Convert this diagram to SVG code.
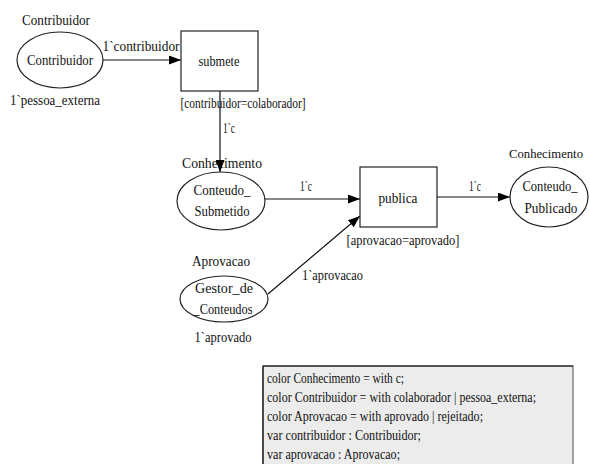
<svg xmlns="http://www.w3.org/2000/svg" width="590" height="464" viewBox="0 0 590 464" font-family="'Liberation Serif', 'DejaVu Serif', serif">
<style>
text{font-family:'Liberation Serif','DejaVu Serif',serif;font-size:15px;fill:#111}
.c{text-anchor:middle}
.decl{font-size:14px}
.shape{fill:#fff;stroke:#222;stroke-width:1.2}
.edge{stroke:#111;stroke-width:1.2;fill:none}
</style>
<defs>
<marker id="arr" markerWidth="12" markerHeight="9" refX="12" refY="4.5" orient="auto" markerUnits="userSpaceOnUse">
<path d="M0,0 L12,4.5 L0,9 Z" fill="#000"/>
</marker>
</defs>
<rect width="590" height="464" fill="#fff"/>
<g id="connectors">
<line class="edge" x1="103" y1="60" x2="181" y2="60" marker-end="url(#arr)"/>
<line class="edge" x1="220" y1="91" x2="220" y2="172" marker-end="url(#arr)"/>
<line class="edge" x1="265" y1="199" x2="360" y2="199" marker-end="url(#arr)"/>
<line class="edge" x1="268" y1="294" x2="360" y2="216" marker-end="url(#arr)"/>
<line class="edge" x1="437" y1="197" x2="510" y2="197" marker-end="url(#arr)"/>
<text x="141" y="51" class="c" textLength="77" lengthAdjust="spacingAndGlyphs">1`contribuidor</text>
<text x="223" y="133" textLength="12" lengthAdjust="spacingAndGlyphs">1`c</text>
<text x="306" y="191" class="c" textLength="12" lengthAdjust="spacingAndGlyphs">1`c</text>
<text x="475" y="191" class="c" textLength="12" lengthAdjust="spacingAndGlyphs">1`c</text>
<text x="302" y="280" textLength="61" lengthAdjust="spacingAndGlyphs">1`aprovacao</text>
</g>
<g id="contribuidor">
<text x="56" y="25" class="c" textLength="68" lengthAdjust="spacingAndGlyphs">Contribuidor</text>
<ellipse class="shape" cx="60" cy="60" rx="43" ry="28"/>
<text x="60" y="65" class="c" textLength="66" lengthAdjust="spacingAndGlyphs">Contribuidor</text>
<text x="55" y="105" class="c" textLength="90" lengthAdjust="spacingAndGlyphs">1`pessoa_externa</text>
</g>
<g id="submete">
<rect class="shape" x="181" y="31" width="77" height="60"/>
<text x="219" y="66" class="c" textLength="41" lengthAdjust="spacingAndGlyphs">submete</text>
<text x="243" y="108" class="c" textLength="125" lengthAdjust="spacingAndGlyphs">[contribuidor=colaborador]</text>
</g>
<g id="conteudo_submetido">
<text x="222" y="168" class="c" textLength="80" lengthAdjust="spacingAndGlyphs">Conhecimento</text>
<ellipse class="shape" cx="221" cy="201" rx="44" ry="29"/>
<text x="222" y="195" class="c" textLength="57" lengthAdjust="spacingAndGlyphs">Conteudo_</text>
<text x="222" y="216" class="c" textLength="55" lengthAdjust="spacingAndGlyphs">Submetido</text>
</g>
<g id="publica">
<rect class="shape" x="360" y="167" width="77" height="60"/>
<text x="398" y="203" class="c" textLength="39" lengthAdjust="spacingAndGlyphs">publica</text>
<text x="403" y="245" class="c" textLength="113" lengthAdjust="spacingAndGlyphs">[aprovacao=aprovado]</text>
</g>
<g id="conteudo_publicado">
<text x="546" y="158" class="c" style="font-size:13px" textLength="74" lengthAdjust="spacingAndGlyphs">Conhecimento</text>
<ellipse class="shape" cx="549" cy="197" rx="39" ry="30"/>
<text x="550" y="191" class="c" textLength="55" lengthAdjust="spacingAndGlyphs">Conteudo_</text>
<text x="551" y="213" class="c" textLength="53" lengthAdjust="spacingAndGlyphs">Publicado</text>
</g>
<g id="gestor_de_conteudos">
<text x="221" y="266" class="c" textLength="58" lengthAdjust="spacingAndGlyphs">Aprovacao</text>
<ellipse class="shape" cx="224" cy="299" rx="44" ry="23"/>
<text x="224" y="293" class="c" textLength="58" lengthAdjust="spacingAndGlyphs">Gestor_de</text>
<text x="223" y="314" class="c" textLength="59" lengthAdjust="spacingAndGlyphs">_Conteudos</text>
<text x="223" y="342" class="c" textLength="57" lengthAdjust="spacingAndGlyphs">1`aprovado</text>
</g>
<g id="declarations">
<rect x="263" y="366" width="310" height="110" fill="#ececec" stroke="#666" stroke-width="1.2"/>
<line x1="263" y1="366" x2="573" y2="366" stroke="#111" stroke-width="1.2"/>
<line x1="263" y1="366" x2="263" y2="464" stroke="#111" stroke-width="1.2"/>
<text class="decl" x="267" y="383" textLength="137" lengthAdjust="spacingAndGlyphs">color Conhecimento = with c;</text>
<text class="decl" x="267" y="402" textLength="269" lengthAdjust="spacingAndGlyphs">color Contribuidor = with colaborador | pessoa_externa;</text>
<text class="decl" x="267" y="421" textLength="216" lengthAdjust="spacingAndGlyphs">color Aprovacao = with aprovado | rejeitado;</text>
<text class="decl" x="267" y="440" textLength="154" lengthAdjust="spacingAndGlyphs">var contribuidor : Contribuidor;</text>
<text class="decl" x="267" y="459" textLength="133" lengthAdjust="spacingAndGlyphs">var aprovacao : Aprovacao;</text>
</g>
</svg>
